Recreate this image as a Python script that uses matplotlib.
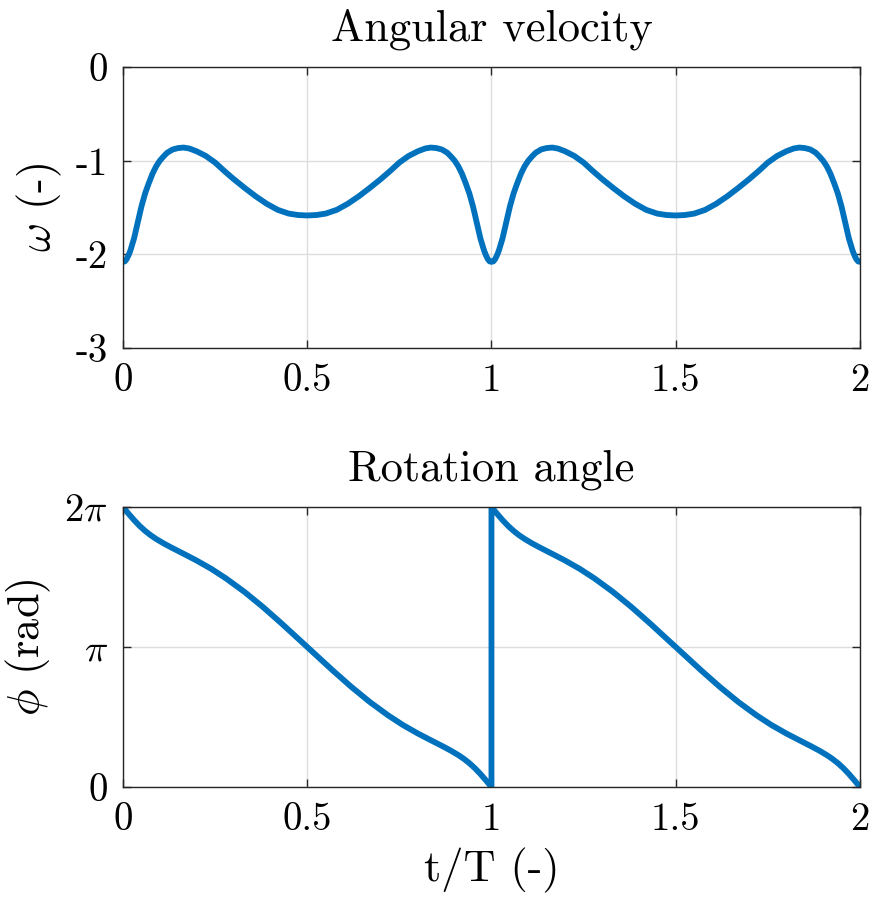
import numpy as np
import matplotlib
matplotlib.use("Agg")
import matplotlib.pyplot as plt

plt.rcParams["font.family"] = "serif"
plt.rcParams["font.serif"] = ["cmr10"]
plt.rcParams["mathtext.fontset"] = "cm"
plt.rcParams["axes.unicode_minus"] = False
plt.rcParams["axes.formatter.use_mathtext"] = True

# one period of the angular velocity (t/T in [0, 1])
t_omega = [0, 0.005, 0.01, 0.015, 0.02, 0.03, 0.04, 0.05, 0.06, 0.07, 0.08, 0.09,
           0.1, 0.11, 0.12, 0.135, 0.15, 0.165, 0.18, 0.2, 0.225, 0.25, 0.275, 0.3,
           0.33, 0.36, 0.39, 0.42, 0.45, 0.475, 0.5, 0.525, 0.55, 0.58, 0.61, 0.64,
           0.67, 0.7, 0.725, 0.75, 0.775, 0.8, 0.82, 0.835, 0.85, 0.865, 0.88, 0.89,
           0.9, 0.91, 0.92, 0.93, 0.94, 0.95, 0.96, 0.97, 0.98, 0.985, 0.99, 0.995, 1.0]
omega_period = [-2.08, -2.075, -2.05, -2.01, -1.96, -1.83, -1.66, -1.49, -1.35, -1.24,
                -1.14, -1.06, -1.00, -0.955, -0.915, -0.88, -0.865, -0.86, -0.87, -0.90,
                -0.95, -1.02, -1.11, -1.195, -1.29, -1.38, -1.46, -1.525, -1.565, -1.58,
                -1.585, -1.58, -1.565, -1.525, -1.46, -1.38, -1.29, -1.195, -1.11, -1.02,
                -0.95, -0.90, -0.87, -0.86, -0.865, -0.88, -0.915, -0.955, -1.00, -1.06,
                -1.14, -1.24, -1.35, -1.49, -1.66, -1.83, -1.96, -2.01, -2.05, -2.075,
                -2.08]

# one period of the rotation angle (rad)
t_phi = [0, 0.015, 0.03, 0.045, 0.06, 0.075, 0.09, 0.11, 0.13, 0.165, 0.2, 0.24,
         0.28, 0.33, 0.38, 0.43, 0.5, 0.57, 0.62, 0.67, 0.72, 0.76, 0.8, 0.835,
         0.87, 0.89, 0.91, 0.925, 0.94, 0.955, 0.97, 0.985, 1.0]
phi_period = [6.283, 6.133, 5.990, 5.860, 5.747, 5.650, 5.566, 5.468, 5.379, 5.231,
              5.081, 4.893, 4.678, 4.376, 4.038, 3.673, 3.142, 2.610, 2.245, 1.907,
              1.605, 1.390, 1.202, 1.052, 0.904, 0.815, 0.717, 0.633, 0.536, 0.423,
              0.293, 0.150, 0.0]
n_periods = 2

x_ticks = [0, 0.5, 1, 1.5, 2]
x_ticklabels = ["0", "0.5", "1", "1.5", "2"]
w_ticks = [-3, -2, -1, 0]
w_ticklabels = ["-3", "-2", "-1", "0"]
phi_ticks = [0, np.pi, 2 * np.pi]
phi_ticklabels = ["0", r"$\pi$", r"$2\pi$"]

# two identical periods back to back
tw = np.concatenate([np.array(t_omega) + k for k in range(n_periods)])
omega = np.concatenate([omega_period] * n_periods)
tp = np.concatenate([np.array(t_phi) + k for k in range(n_periods)])
phi = np.concatenate([phi_period] * n_periods)

blue = "#0072BD"
fig = plt.figure(figsize=(8.81, 8.97), dpi=100)
ax1 = fig.add_axes([0.1396, 0.612, 0.8365, 0.3133])
ax2 = fig.add_axes([0.1396, 0.1226, 0.8365, 0.3122])


def style(ax):
    ax.grid(True, color="#dddddd", linewidth=1.0)
    ax.set_axisbelow(True)
    for s in ax.spines.values():
        s.set_color("#262626")
        s.set_linewidth(1.0)
    ax.tick_params(direction="in", length=6, width=1.0, color="#262626",
                   top=True, right=True, labelsize=28)
    ax.tick_params(axis="x", pad=11)
    ax.tick_params(axis="y", pad=11)
    ax.set_xlim(0, 2)
    ax.set_xticks(x_ticks)
    ax.set_xticklabels(x_ticklabels)


ax1.plot(tw, omega, color=blue, linewidth=4.2, solid_capstyle="round",
         solid_joinstyle="round")
style(ax1)
ax1.set_ylim(-3, 0)
ax1.set_yticks(w_ticks)
ax1.set_yticklabels(w_ticklabels)
ax1.set_ylabel(r"$\omega$ (-)", fontsize=32, labelpad=8)
ax1.set_title("Angular velocity", fontsize=32, pad=19)

ax2.plot(tp, phi, color=blue, linewidth=4.2, solid_capstyle="round",
         solid_joinstyle="round")
style(ax2)
ax2.set_ylim(0, 2 * np.pi)
ax2.set_yticks(phi_ticks)
ax2.set_yticklabels(phi_ticklabels)
ax2.set_ylabel(r"$\phi$ (rad)", fontsize=32, labelpad=8)
ax2.set_xlabel("t/T (-)", fontsize=32, labelpad=7)
ax2.set_title("Rotation angle", fontsize=32, pad=19)

fig.savefig("out.png", dpi=100, facecolor="white")
